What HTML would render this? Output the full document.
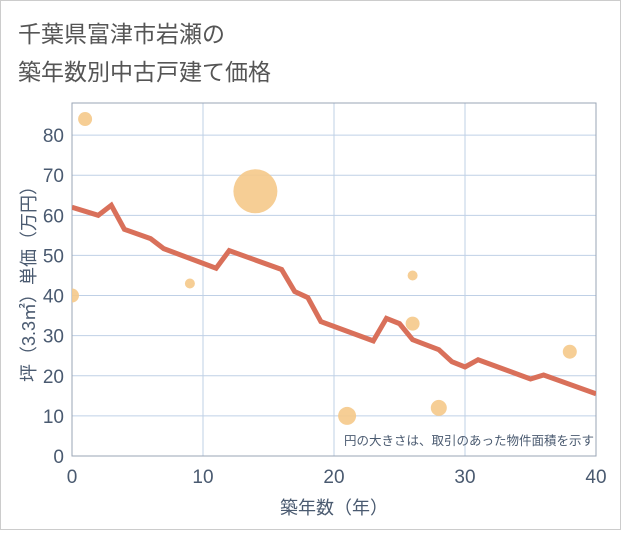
<!DOCTYPE html>
<html><head><meta charset="utf-8"><style>
body{margin:0;background:#fff;}
#c{width:619px;height:528px;border:1px solid #ccc;position:relative;font-family:"Liberation Sans","Noto Sans CJK JP",sans-serif;}
</style></head><body>
<div id="c">
<svg id="s" width="619" height="528">
<text x="17" y="41" font-size="23" fill="#555" font-family="Liberation Sans,Noto Sans CJK JP,sans-serif">千葉県富津市岩瀬の</text>
<text x="17" y="79" font-size="23" fill="#555" font-family="Liberation Sans,Noto Sans CJK JP,sans-serif">築年数別中古戸建て価格</text>
</svg></div>
<script>
const xTicks=[0,10,20,30,40];
const yTicks=[0,10,20,30,40,50,60,70,80];
const lineX=[0,2,3,4,6,7,11,12,16,17,18,19,23,24,25,26,28,29,30,31,35,36,40];
const lineY=[62,60,62.5,56.5,54.2,51.7,46.8,51.2,46.5,41,39.5,33.5,28.7,34.3,33,29,26.5,23.5,22.2,24,19.2,20.2,15.5];
const bubX=[0,1,9,14,21,26,26,28,38];
const bubY=[40,84,43,66,10,45,33,12,26];
const bubR=[7,7,5,22,9,5,7,8,7];
const L=71,R=595,T=102,B=455;
const sx=v=>L+(v-0)/40*(R-L), sy=v=>B-v/88*(B-T);
const s=document.getElementById('s'),NS='http://www.w3.org/2000/svg';
function mk(t,a,p){const e=document.createElementNS(NS,t);for(const k in a)e.setAttribute(k,a[k]);(p||s).appendChild(e);return e;}
const clip=mk('clipPath',{id:'cp'});mk('rect',{x:L,y:T,width:R-L,height:B-T},clip);
yTicks.forEach(v=>{const l=mk('line',{x1:L,x2:R,y1:sy(v),y2:sy(v),stroke:'#bfd0e6','stroke-width':1});

const t=mk('text',{x:L-8,y:sy(v)+7,'text-anchor':'end','font-size':19,fill:'#4a5a70'});t.textContent=v;
});
xTicks.forEach(v=>{const l=mk('line',{x1:sx(v),x2:sx(v),y1:T,y2:B,stroke:'#bfd0e6','stroke-width':1});

const t=mk('text',{x:sx(v),y:B+27,'text-anchor':'middle','font-size':19,fill:'#4a5a70'});t.textContent=v;
});
const fr=mk('rect',{x:L,y:T,width:R-L,height:B-T,fill:'none',stroke:'#9aa5b5','stroke-width':1});

const g=mk('g',{'clip-path':'url(#cp)'});
bubX.forEach((x,i)=>{const c=mk('ellipse',{cx:sx(x),cy:sy(bubY[i]),rx:bubR[i],ry:bubR[i],fill:'#f5c98a','fill-opacity':0.9},g);
});
const p=mk('polyline',{points:lineX.map((x,i)=>sx(x)+','+sy(lineY[i])).join(' '),fill:'none',stroke:'#d9705a','stroke-width':5,'stroke-linejoin':'miter'},g);

const n=mk('text',{x:R-2,y:B-11,'text-anchor':'end','font-size':12.5,fill:'#4a5a70'});n.textContent='円の大きさは、取引のあった物件面積を示す';

const xt=mk('text',{x:(L+R)/2,y:513,'text-anchor':'middle','font-size':18,fill:'#4a5a70'});xt.textContent='築年数（年）';

const yt=mk('text',{x:0,y:0,'text-anchor':'middle','font-size':18,fill:'#4a5a70',transform:`translate(34,${(T+B)/2}) rotate(-90)`});yt.textContent='坪（3.3㎡）単価（万円）';

</script></body></html>
